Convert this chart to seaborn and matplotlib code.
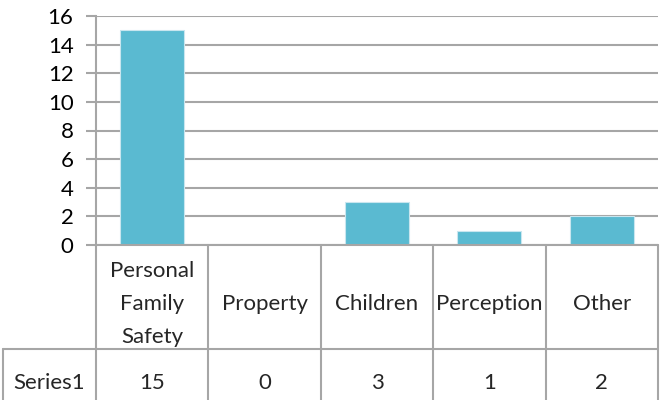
import matplotlib
matplotlib.use("Agg")
import matplotlib.pyplot as plt
import seaborn as sns
import pandas as pd
from matplotlib.lines import Line2D

categories = ["Personal\nFamily\nSafety", "Property", "Children", "Perception", "Other"]
values = [15, 0, 3, 1, 2]
series_name = "Series1"
yticks = [0, 2, 4, 6, 8, 10, 12, 14, 16]

sns.set_theme(style="white")
plt.rcParams['font.family'] = ['Lato', 'DejaVu Sans']
FS = 16

W, H = 664, 400
fig = plt.figure(figsize=(W / 100, H / 100), dpi=100)
L, R, T, B = 96, 658, 16, 245
ax = fig.add_axes([L / W, 1 - B / H, (R - L) / W, (B - T) / H])

df = pd.DataFrame({"cat": categories, "val": values})
sns.barplot(data=df, x="cat", y="val", color="#5ABAD1", width=0.57,
            edgecolor="#C9E6EF", linewidth=0.8, ax=ax, saturation=1)
ax.set_xlim(-0.5, len(categories) - 0.5)
ax.set_ylim(0, 16)
ax.set_yticks(yticks)
ax.set_yticklabels([str(t) for t in yticks], fontsize=FS, color="black")
ax.set_xticks([])
ax.set_xlabel("")
ax.set_ylabel("")
grid_c = "#A6A6A6"
ax.yaxis.grid(True, color=grid_c, linewidth=1.5)
ax.set_axisbelow(True)
for s in ["top", "right", "bottom"]:
    ax.spines[s].set_visible(False)
ax.spines["left"].set_color(grid_c)
ax.spines["left"].set_linewidth(1.5)
ax.tick_params(axis="y", length=7.2, width=1.5, color=grid_c, left=True, pad=9)

# data table below the axes (figure pixel coordinates)
def px(x, y):
    return x / W, 1 - y / H

def line(x0, y0, x1, y1):
    a, b = px(x0, y0)
    c, d = px(x1, y1)
    fig.add_artist(Line2D([a, c], [b, d], color=grid_c, linewidth=1.5))

n = len(categories)
cw = (R - L) / n
row1_bottom = 349
bottom = 402
line(L, B, R, B)
line(3, row1_bottom, R, row1_bottom)
line(3, row1_bottom, 3, bottom)
for i in range(n + 1):
    x = L + i * cw
    line(x, B, x, bottom)

for i, (c, v) in enumerate(zip(categories, values)):
    xc = L + (i + 0.5) * cw
    fig.text(*px(xc, 304), c, ha="center", va="center",
             fontsize=FS, linespacing=1.8)
    fig.text(*px(xc, 383), str(v), ha="center", va="center", fontsize=FS)
fig.text(*px((3 + L) / 2, 383), series_name, ha="center", va="center", fontsize=FS)

fig.savefig("out.png", dpi=100)
